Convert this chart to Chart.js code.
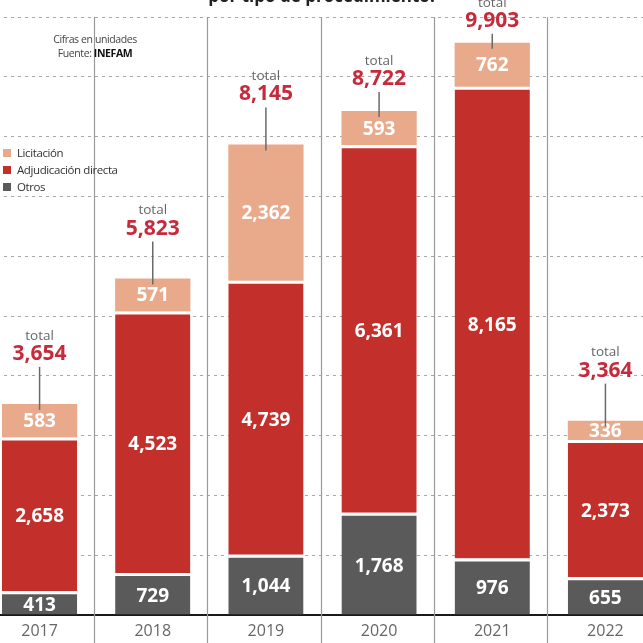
<!DOCTYPE html>
<html><head><meta charset="utf-8">
<script src="https://cdn.jsdelivr.net/npm/chart.js@4"></script>
<style>
html,body{margin:0;padding:0;background:#fff;overflow:hidden;width:643px;height:643px;position:relative;font-family:"Open Sans",sans-serif}
#c{position:absolute;left:-17px;top:0}
.title{position:absolute;left:0;width:643px;top:-16px;text-align:center;font:700 17px "Open Sans";color:#222}
.note{position:absolute;left:35px;width:120px;top:32px;text-align:center;font:400 10.5px/14px "Open Sans";color:#444;letter-spacing:-0.4px}
.note b{color:#111}
.legend{position:absolute;left:3px;top:144px;font:400 11.5px/17px "Open Sans";color:#333;letter-spacing:-0.4px}
.legend .sw{display:inline-block;width:8px;height:8px;margin-right:6px}
</style></head><body>
<canvas id="c" width="679" height="643"></canvas>
<div class="title">por tipo de procedimiento.</div>
<div class="note">Cifras en unidades<br>Fuente: <b>INEFAM</b></div>
<div class="legend" id="lg"></div>
<script>
const years = ['2017','2018','2019','2020','2021','2022'];
const otros = [413, 729, 1044, 1768, 976, 655];
const adjudicacion = [2658, 4523, 4739, 6361, 8165, 2373];
const licitacion = [583, 571, 2362, 593, 762, 336];
const totals = [3654, 5823, 8145, 8722, 9903, 3364];
const seriesNames = ['Otros', 'Adjudicación directa', 'Licitación'];
const seriesColors = ['#5a5a5a', '#c3302b', '#e9aa8c'];

const fmt = v => v.toLocaleString('en-US');

// legend (top to bottom: Licitación, Adjudicación directa, Otros)
const lg = document.getElementById('lg');
for (let i = seriesNames.length - 1; i >= 0; i--) {
  const row = document.createElement('div');
  row.innerHTML = '<span class="sw" style="background:' + seriesColors[i] + '"></span>' + seriesNames[i];
  lg.appendChild(row);
}

const sepPlugin = {
  id: 'sep',
  beforeDatasetsDraw(chart) {
    const ctx = chart.ctx, x = chart.scales.x;
    ctx.save();
    ctx.strokeStyle = '#9a9a9a';
    ctx.lineWidth = 1.2;
    for (let i = 0; i < years.length - 1; i++) {
      const px = Math.round((x.getPixelForValue(i) + x.getPixelForValue(i + 1)) / 2) - 1.5;
      ctx.beginPath(); ctx.moveTo(px, 17); ctx.lineTo(px, 643); ctx.stroke();
    }
    ctx.restore();
  }
};

const labelPlugin = {
  id: 'labels',
  afterDatasetsDraw(chart) {
    const ctx = chart.ctx;
    ctx.save();
    ctx.textAlign = 'center';
    ctx.textBaseline = 'middle';
    chart.data.datasets.forEach((ds, di) => {
      const meta = chart.getDatasetMeta(di);
      const bw = (ds.borderWidth && ds.borderWidth.top) || 0;
      meta.data.forEach((el, i) => {
        const cy = (el.y + bw + el.base) / 2;
        ctx.fillStyle = '#ffffff';
        ctx.font = '700 19px "Open Sans"';
        ctx.fillText(fmt(ds.data[i]), el.x, cy + 1);
      });
    });
    // totals
    const topMeta = chart.getDatasetMeta(chart.data.datasets.length - 1);
    topMeta.data.forEach((el, i) => {
      const top = el.y;
      const gap = top < 70 ? 22 : (top < 130 ? 32 : 50);
      const numY = top - gap;
      ctx.strokeStyle = '#6a6a6a';
      ctx.lineWidth = 1.5;
      ctx.beginPath();
      ctx.moveTo(el.x, numY + 13);
      ctx.lineTo(el.x, top + 6);
      ctx.stroke();
      ctx.fillStyle = '#c62a3b';
      ctx.font = '700 21px "Open Sans"';
      ctx.fillText(fmt(totals[i]), el.x, numY);
      ctx.fillStyle = '#666';
      ctx.font = '400 13.5px "Open Sans"';
      ctx.fillText('total', el.x, numY - 18);
    });
    ctx.restore();
  }
};

new Chart(document.getElementById('c'), {
  type: 'bar',
  data: {
    labels: years,
    datasets: [
      { label: seriesNames[0], data: otros, backgroundColor: seriesColors[0], borderColor: '#fff', borderWidth: {top: 3, left: 0, right: 0, bottom: 0}, borderSkipped: false },
      { label: seriesNames[1], data: adjudicacion, backgroundColor: seriesColors[1], borderColor: '#fff', borderWidth: {top: 3, left: 0, right: 0, bottom: 0}, borderSkipped: false },
      { label: seriesNames[2], data: licitacion, backgroundColor: seriesColors[2], borderWidth: 0 }
    ]
  },
  options: {
    responsive: false,
    animation: false,
    devicePixelRatio: 1,
    layout: { padding: { top: 17, left: 0, right: 0, bottom: 0 } },
    plugins: { legend: { display: false }, tooltip: { enabled: false }, title: { display: false } },
    datasets: { bar: { barPercentage: 0.665, categoryPercentage: 1 } },
    scales: {
      x: {
        stacked: true,
        grid: { display: false, drawTicks: false },
        border: { display: true, color: '#1a1a1a', width: 2 },
        ticks: { color: '#666', font: { family: 'Open Sans', size: 16 }, padding: 7 },
        afterFit(s) { s.height = 28; }
      },
      y: {
        stacked: true,
        min: 0,
        max: 10350,
        grid: { color: '#a8a8a8', lineWidth: 1, drawTicks: false },
        border: { display: false, dash: [3, 4] },
        ticks: { display: false, stepSize: 1040, includeBounds: false },
        afterFit(s) { s.width = 0; }
      }
    }
  },
  plugins: [sepPlugin, labelPlugin]
});
</script>
</body></html>
